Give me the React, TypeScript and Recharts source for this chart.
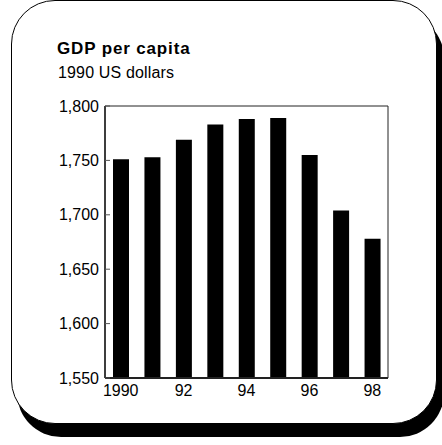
import React from "react";
import { BarChart, Bar, XAxis, YAxis, ReferenceArea } from "recharts";

const years = ["1990", "1991", "1992", "1993", "1994", "1995", "1996", "1997", "1998"];
const gdpPerCapita = [1751, 1753, 1769, 1783, 1788, 1789, 1755, 1704, 1678];
const xTickLabels = ["1990", "", "92", "", "94", "", "96", "", "98"];
const yTicks = [1550, 1600, 1650, 1700, 1750, 1800];

const data = years.map((y, i) => ({ year: y, value: gdpPerCapita[i] }));

const FONT = "'Liberation Sans', Arial, Helvetica, sans-serif";

export default function App() {
  return (
    <div style={{ position: "absolute", left: 0, top: 0, width: 442, height: 445, overflow: "hidden", background: "#fff", fontFamily: FONT }}>
      <div style={{ position: "absolute", left: 17, top: 14, width: 427, height: 423, borderRadius: 44, background: "#000" }} />
      <div style={{ position: "absolute", left: 11, top: 0, width: 424, height: 422, borderRadius: 44, background: "#fff", border: "1.3px solid #000" }} />
      <div style={{ position: "absolute", left: 57, top: 39, fontSize: 17, fontWeight: "bold", color: "#000", whiteSpace: "nowrap", letterSpacing: 0.85 }}>GDP per capita</div>
      <div style={{ position: "absolute", left: 58, top: 64, fontSize: 16, color: "#000", whiteSpace: "nowrap", letterSpacing: 0.15 }}>1990 US dollars</div>
      <div style={{ position: "absolute", left: 0, top: 0 }}>
        <BarChart width={442} height={445} data={data} margin={{ top: 106, right: 54, bottom: 37, left: 45 }}>
          <ReferenceArea y1={1550} y2={1800} fill="none" stroke="#222" strokeWidth={1} ifOverflow="visible" />
          <XAxis
            dataKey="year"
            interval={0}
            height={30}
            tickLine={false}
            tickSize={0}
            tickMargin={7}
            axisLine={{ stroke: "#222", strokeWidth: 2 }}
            tickFormatter={(v: string, i: number) => xTickLabels[i]}
            tick={{ fill: "#000", fontSize: 16, fontFamily: FONT }}
          />
          <YAxis
            domain={[1550, 1800]}
            ticks={yTicks}
            interval={0}
            width={60}
            tickSize={-5}
            tickMargin={11}
            tickLine={{ stroke: "#555" }}
            axisLine={{ stroke: "#222", strokeWidth: 1.5 }}
            tickFormatter={(v: number) => v.toLocaleString("en-US")}
            tick={{ fill: "#000", fontSize: 16, fontFamily: FONT }}
          />
          <Bar dataKey="value" fill="#000" barSize={16} isAnimationActive={false} />
        </BarChart>
      </div>
    </div>
  );
}
